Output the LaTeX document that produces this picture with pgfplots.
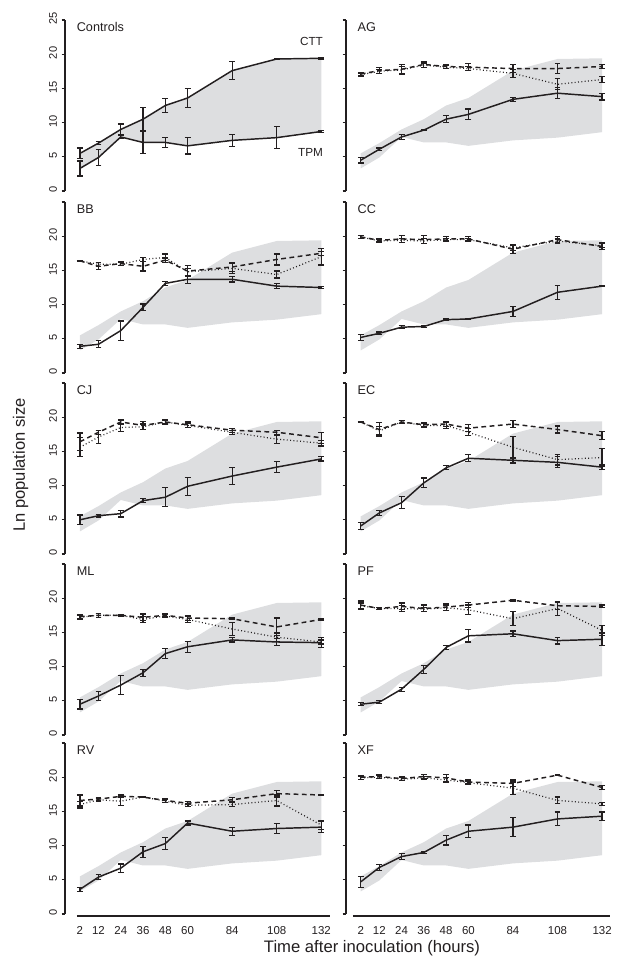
\documentclass[border=0pt]{standalone}
\usepackage{fontspec}
\setmainfont{Liberation Sans}
\usepackage{pgfplots}
\usepackage{pgfplotstable}
\pgfplotsset{compat=1.18}
\definecolor{shade}{RGB}{221,222,224}
\definecolor{ink}{RGB}{35,31,32}

% Controls band (TPM lower, CTT upper) as a polygon
\pgfplotstableread{
h y
2 5.5
12 7.0
24 9.0
36 10.5
48 12.5
60 13.6
84 17.6
108 19.3
132 19.4
132 8.6
108 7.8
84 7.4
60 6.6
48 7.1
36 7.1
24 7.9
12 4.9
2 3.3
}\band

\pgfplotstableread{
h ctt ce tpm te
2 5.5 0.8 3.3 1.1
12 7.0 0.2 4.9 1.2
24 9.0 0.8 7.9 0.2
36 10.5 1.7 7.1 1.6
48 12.5 1.0 7.1 0.7
60 13.6 1.4 6.6 1.2
84 17.6 1.3 7.4 0.9
108 19.3 0.1 7.8 1.6
132 19.4 0.1 8.7 0.1
}\ctrl

\pgfplotstableread{
h s se d de o oe
2 4.5 0.4 17.1 0.2 17.0 0.2
12 6.1 0.2 17.6 0.4 17.5 0.3
24 7.9 0.4 17.8 0.7 17.7 0.5
36 8.9 0.1 18.5 0.4 18.4 0.3
48 10.5 0.5 18.2 0.3 18.1 0.2
60 11.2 0.8 18.1 0.5 17.9 0.3
84 13.4 0.3 17.9 0.6 17.2 0.6
108 14.3 0.8 17.9 0.7 15.6 0.8
132 13.8 0.5 18.2 0.3 16.3 0.4
}\dAG

\pgfplotstableread{
h s se d de o oe
2 3.9 0.3 16.4 0.1 16.4 0.1
12 4.2 0.5 15.6 0.5 15.9 0.3
24 6.2 1.4 16.0 0.3 15.9 0.2
36 9.6 0.5 15.6 0.7 16.6 0.3
48 13.1 0.3 16.5 0.3 16.9 0.5
60 13.7 0.6 14.9 0.8 14.8 0.5
84 13.7 0.4 15.5 0.7 15.3 0.7
108 12.7 0.4 16.6 0.8 14.4 0.5
132 12.5 0.2 17.5 0.3 17.0 1.2
}\dBB

\pgfplotstableread{
h s se d de o oe
2 5.2 0.4 19.9 0.2 19.9 0.2
12 5.8 0.2 19.4 0.2 19.3 0.2
24 6.7 0.2 19.6 0.5 19.4 0.3
36 6.8 0.2 19.5 0.6 19.3 0.4
48 7.8 0.1 19.6 0.3 19.5 0.2
60 7.9 0.1 19.6 0.3 19.5 0.2
84 9.0 0.7 18.1 0.6 18.3 0.4
108 11.8 1.0 19.5 0.5 19.3 0.3
132 12.7 0.1 18.5 0.5 18.6 0.3
}\dCC

\pgfplotstableread{
h s se d de o oe
2 5.0 0.7 16.4 1.3 15.6 1.4
12 5.6 0.2 17.8 0.3 17.1 1.0
24 5.9 0.5 19.3 0.3 18.5 0.6
36 7.8 0.3 18.8 0.6 18.6 0.4
48 8.3 1.4 19.3 0.3 19.3 0.3
60 9.9 1.3 18.9 0.4 18.8 0.3
84 11.4 1.2 18.1 0.3 17.8 0.3
108 12.7 0.8 17.8 0.3 16.8 0.6
132 13.9 0.3 17.0 0.8 16.2 0.4
}\dCJ

\pgfplotstableread{
h s se d de o oe
2 4.1 0.5 19.3 0.1 19.3 0.1
12 6.0 0.4 18.2 1.0 18.0 0.6
24 7.5 0.9 19.3 0.2 19.3 0.2
36 10.4 0.7 18.9 0.3 18.8 0.3
48 12.6 0.3 19.0 0.4 18.8 0.4
60 14.0 0.5 18.4 0.5 17.8 0.5
84 13.7 0.4 19.0 0.5 15.6 1.6
108 13.4 0.8 18.2 0.5 13.8 0.8
132 12.7 0.3 17.3 0.6 14.1 1.3
}\dEC

\pgfplotstableread{
h s se d de o oe
2 4.5 0.7 17.3 0.3 17.2 0.3
12 5.7 0.7 17.5 0.3 17.5 0.3
24 7.3 1.4 17.5 0.1 17.5 0.1
36 9.1 0.5 17.2 0.5 16.9 0.4
48 11.9 0.7 17.5 0.2 17.4 0.2
60 12.9 0.8 17.1 0.4 16.9 0.4
84 13.9 0.3 17.0 0.1 15.5 1.0
108 13.6 0.5 15.8 1.3 14.3 0.6
132 13.5 0.7 16.9 0.1 13.6 0.3
}\dML

\pgfplotstableread{
h s se d de o oe
2 4.5 0.2 19.0 0.6 18.9 0.4
12 4.8 0.2 18.5 0.2 18.5 0.2
24 6.7 0.3 18.8 0.5 18.5 0.4
36 9.6 0.6 18.5 0.5 18.4 0.3
48 12.8 0.3 18.7 0.5 18.6 0.4
60 14.5 0.9 19.0 0.4 18.3 0.7
84 14.8 0.4 19.7 0.1 17.0 1.0
108 13.8 0.5 18.9 0.5 18.5 1.0
132 14.0 0.9 18.8 0.2 15.3 0.7
}\dPF

\pgfplotstableread{
h s se d de o oe
2 3.6 0.3 16.6 0.8 16.0 0.5
12 5.4 0.4 16.8 0.2 16.7 0.2
24 6.7 0.6 17.2 0.2 16.5 0.6
36 9.1 0.8 17.1 0.1 17.1 0.1
48 10.3 0.9 16.6 0.3 16.5 0.2
60 13.3 0.3 16.2 0.2 15.9 0.2
84 12.1 0.6 16.7 0.3 16.0 0.3
108 12.5 0.7 17.6 0.5 16.6 0.8
132 12.7 0.8 17.4 0.1 13.0 0.7
}\dRV

\pgfplotstableread{
h s se d de o oe
2 4.7 0.8 20.0 0.3 19.9 0.2
12 6.8 0.4 20.1 0.3 20.0 0.2
24 8.4 0.4 19.8 0.3 19.7 0.2
36 9.0 0.1 20.1 0.3 19.9 0.2
48 10.8 0.7 19.9 0.5 19.6 0.4
60 12.1 0.9 19.3 0.3 19.2 0.2
84 12.7 1.4 19.1 0.5 18.4 0.9
108 13.9 1.0 20.3 0.1 16.6 0.5
132 14.3 0.6 18.5 0.3 16.1 0.2
}\dXF

\tikzset{
  ptitle/.style={anchor=base west, inner sep=0pt, font=\fontsize{9.5}{10}\selectfont, text=ink},
}
\pgfplotsset{
  panel/.style={
    scale only axis, width=200.5pt, height=128.25pt,
    xmin=-6, xmax=138, ymin=0, ymax=25, clip=false,
    anchor=south west,
    axis y line*=left,
    y axis line style={line width=1.1pt, draw=ink, -},
    ytick={0,5,10,15,20,25},
    tick align=outside, major tick length=2.5pt,
    ytick style={line width=0.8pt, draw=ink},
    yticklabel style={rotate=90, anchor=south, xshift=1pt, font=\fontsize{8.3}{9}\selectfont, text=ink},
    /pgf/number format/assume math mode=true,
  },
  notbottom/.style={axis x line=none},
  bottom/.style={axis x line*=bottom, x axis line style={draw=none},
    xtick={2,12,24,36,48,60,84,108,132}, xtick style={draw=none},
    xticklabel style={font=\fontsize{8.6}{9}\selectfont, text=ink, yshift=-3pt}},
  leftcol/.style={yticklabels={0,5,10,15,20,{}}},
  rightcol/.style={yticklabels={{},{},{},{},{},{}}},
  ebars/.style={error bars/.cd, y dir=both, y explicit, error mark=|,
    error bar style={line width=0.9pt, solid, draw=ink},
    error mark options={mark size=2.2pt, line width=0.9pt, solid, draw=ink}},
}

\newcommand{\panel}[5]{%
\begin{axis}[panel, at={#1}, #4]
  \addplot[fill=shade, draw=none] table[x=h,y=y] {\band};
  \addplot[ink, line width=0.9pt, dash pattern=on 0.7pt off 1.8pt, mark=none, ebars]
    table[x=h, y=o, y error=oe] {#2};
  \addplot[ink, line width=1.1pt, dash pattern=on 3.6pt off 2.6pt, mark=none, ebars]
    table[x=h, y=d, y error=de] {#2};
  \addplot[ink, line width=1.1pt, solid, mark=none, ebars]
    table[x=h, y=s, y error=se] {#2};
  \node[ptitle] at (axis cs:0.2,23.3) {#3};
  #5
\end{axis}}

\begin{document}
\begin{tikzpicture}
\useasboundingbox (0pt,0pt) rectangle (468pt,-727.5pt);

% Controls
\begin{axis}[panel, at={(48.8pt,-143.25pt)}, notbottom, yticklabels={0,5,10,15,20,25}]
  \addplot[fill=shade, draw=none] table[x=h,y=y] {\band};
  \addplot[ink, line width=1.1pt, mark=none, ebars] table[x=h, y=ctt, y error=ce] {\ctrl};
  \addplot[ink, line width=1.1pt, mark=none, ebars] table[x=h, y=tpm, y error=te] {\ctrl};
  \node[ptitle] at (axis cs:0.2,23.3) {Controls};
  \node[anchor=base east, inner sep=0pt, font=\fontsize{8.8}{10}\selectfont, text=ink] at (axis cs:133,21.2) {CTT};
  \node[anchor=base east, inner sep=0pt, font=\fontsize{8.8}{10}\selectfont, text=ink] at (axis cs:133,5.1) {TPM};
\end{axis}

\panel{(259.4pt,-143.25pt)}{\dAG}{AG}{notbottom, rightcol}{}
\panel{(48.8pt,-279.75pt)}{\dBB}{BB}{notbottom, leftcol}{}
\panel{(259.4pt,-279.75pt)}{\dCC}{CC}{notbottom, rightcol}{}
\panel{(48.8pt,-415.5pt)}{\dCJ}{CJ}{notbottom, leftcol}{}
\panel{(259.4pt,-415.5pt)}{\dEC}{EC}{notbottom, rightcol}{}
\panel{(48.8pt,-551.25pt)}{\dML}{ML}{notbottom, leftcol}{}
\panel{(259.4pt,-551.25pt)}{\dPF}{PF}{notbottom, rightcol}{}
\panel{(48.8pt,-685.5pt)}{\dRV}{RV}{bottom, leftcol}{\draw[ink, line width=1.4pt] (axis cs:0.4,-0.3) -- (axis cs:136.8,-0.3);}
\panel{(259.4pt,-685.5pt)}{\dXF}{XF}{bottom, rightcol}{\draw[ink, line width=1.4pt] (axis cs:-2.2,-0.3) -- (axis cs:136.5,-0.3);}

\node[rotate=90, font=\fontsize{12.4}{14}\selectfont, text=ink] at (15.4pt,-348.75pt) {Ln population size};
\node[font=\fontsize{12.5}{14}\selectfont, text=ink] at (279pt,-711pt) {Time after inoculation (hours)};
\end{tikzpicture}
\end{document}
